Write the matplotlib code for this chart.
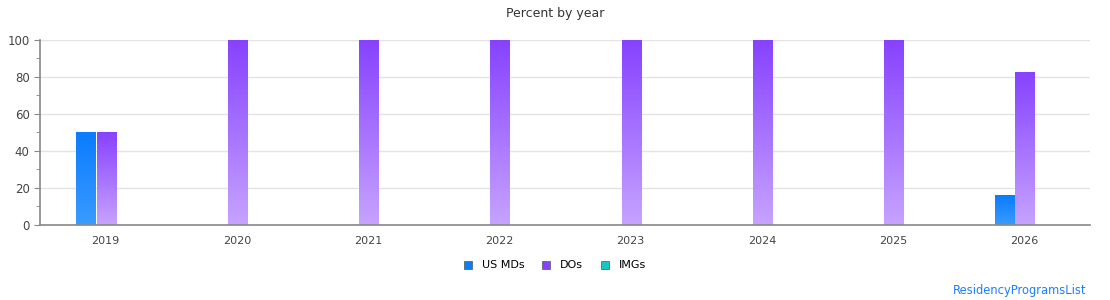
import matplotlib
matplotlib.use("Agg")
import matplotlib.pyplot as plt
import numpy as np
from matplotlib.colors import LinearSegmentedColormap
from matplotlib.patches import Patch
from matplotlib.ticker import MultipleLocator

# Chart data
years = ["2019", "2020", "2021", "2022", "2023", "2024", "2025", "2026"]
us_mds = [50, 0, 0, 0, 0, 0, 0, 16]
dos = [50, 100, 100, 100, 100, 100, 100, 83]
imgs = [0, 0, 0, 0, 0, 0, 0, 0]

series = [
    ("US MDs", us_mds, "#0a7cff", "#3a9bff"),
    ("DOs", dos, "#8742ff", "#c6a3ff"),
    ("IMGs", imgs, "#12c8c8", "#5adede"),
]

fig = plt.figure(figsize=(11.1, 3.0), dpi=100)
ax = fig.add_axes([0.036, 0.25, 0.946, 0.617])

x = np.arange(len(years))
width = 0.152
shift = 0.008
offsets = [-width - 0.004 + shift, shift, width + 0.004 + shift]

for (name, vals, top, bottom), off in zip(series, offsets):
    cmap = LinearSegmentedColormap.from_list(name, [bottom, top])
    grad = np.linspace(0, 1, 256).reshape(-1, 1)
    for xi, v in zip(x, vals):
        if v <= 0:
            continue
        left = xi + off - width / 2
        # gradient fill from light bottom to saturated top
        ax.imshow(grad, cmap=cmap, origin="lower", aspect="auto",
                  extent=[left, left + width, 0, v * 0.995], zorder=2)

ax.set_xlim(-0.5, len(years) - 0.5)
ax.set_ylim(0, 100)
ax.set_xticks(x)
ax.set_xticklabels(years)
ax.yaxis.set_major_locator(MultipleLocator(20))
ax.yaxis.set_minor_locator(MultipleLocator(10))
ax.grid(axis="y", color="#e3e3e3", linewidth=1, zorder=0)
ax.set_axisbelow(True)

for s in ["top", "right"]:
    ax.spines[s].set_visible(False)
for s in ["left", "bottom"]:
    ax.spines[s].set_color("#888888")
    ax.spines[s].set_linewidth(1.2)

ax.tick_params(axis="x", length=0, pad=8, labelsize=8, labelcolor="#444444")
ax.tick_params(axis="y", which="major", length=4, color="#888888",
               labelsize=8.5, labelcolor="#444444")
ax.tick_params(axis="y", which="minor", length=3, color="#888888")

fig.text(0.5, 0.955, "Percent by year", ha="center", va="center",
         fontsize=9, color="#333333")

handles = [Patch(facecolor=c, edgecolor="#555555", linewidth=0.5, label=n)
           for n, _, c, _ in series]
handles[2].set_facecolor("#19c6c6")
fig.legend(handles=handles, loc="center", bbox_to_anchor=(0.5, 0.115),
           ncol=3, frameon=False, fontsize=8, handlelength=0.7,
           handleheight=0.7, columnspacing=1.6, handletextpad=0.9)

fig.text(0.979, 0.033, "ResidencyProgramsList", ha="right", va="center",
         fontsize=8.3, color="#1a7fff")

fig.savefig("out.png", dpi=100)
